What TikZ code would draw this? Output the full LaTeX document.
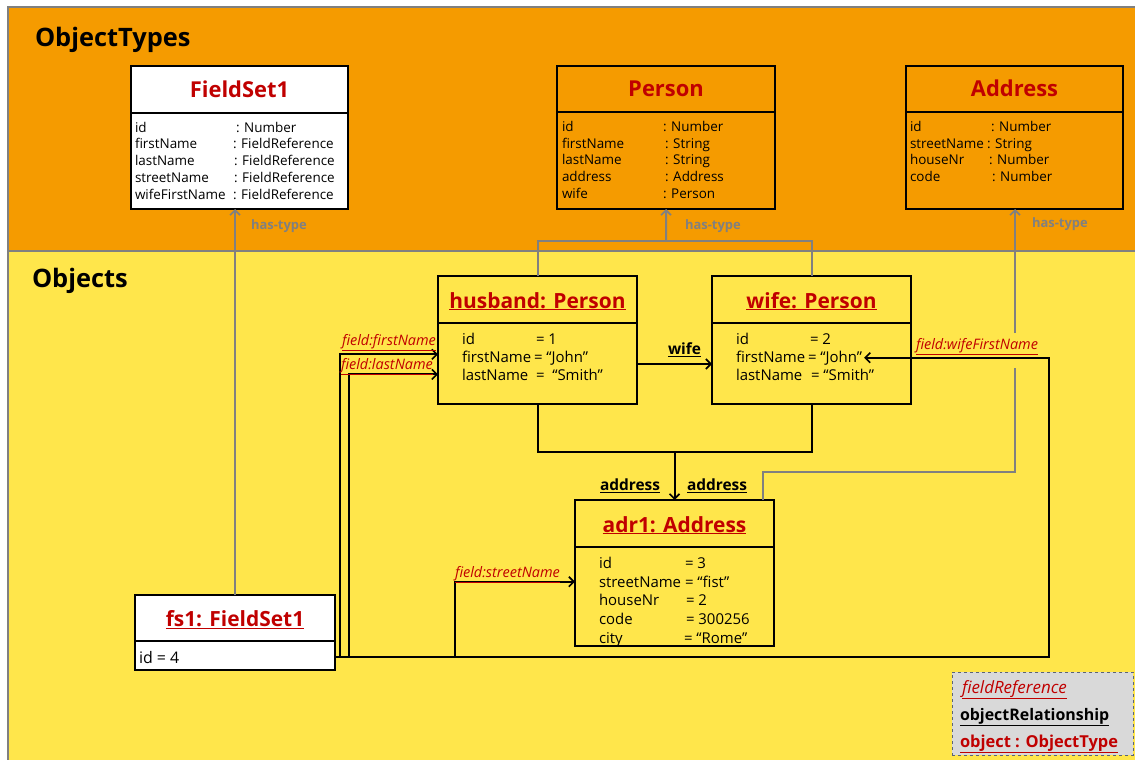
\documentclass[tikz,border=0pt]{standalone}
\usepackage{fontspec}
\setmainfont{Open Sans}
\usetikzlibrary{arrows.meta}
\definecolor{otorange}{RGB}{245,155,0}
\definecolor{objyellow}{RGB}{255,230,75}
\definecolor{titlered}{RGB}{192,0,0}
\definecolor{linkgray}{RGB}{128,128,128}
\definecolor{legendfill}{RGB}{217,217,217}
\definecolor{legendedge}{RGB}{90,100,120}

\begin{document}
\begin{tikzpicture}[x=1bp,y=-1bp,
  every node/.style={inner sep=0pt, outer sep=0pt},
  umlbox/.style={draw=black, line width=1.8bp, anchor=north west},
  typetitle/.style={text=titlered, font=\fontsize{22}{26}\selectfont\bfseries, text height=20bp, text depth=4bp},
  objtitle/.style={text=titlered, font=\fontsize{21}{25}\selectfont\bfseries, text height=20bp, text depth=3bp},
  attr/.style={anchor=base west, yshift=-5.5bp, font=\fontsize{13.5}{16}\selectfont},
  objattr/.style={anchor=base west, yshift=-6bp, font=\fontsize{15}{18}\selectfont},
  section/.style={anchor=base west, yshift=-10bp, font=\fontsize{25.5}{30}\selectfont\bfseries},
  rel/.style={draw=black, line width=2bp},
  relarrow/.style={rel, -{Straight Barb[length=5bp,width=10bp,line width=1.6bp]}},
  typelink/.style={draw=linkgray, line width=2bp},
  typearrow/.style={typelink, -{Straight Barb[length=5bp,width=10bp,line width=1.6bp]}},
  typelabel/.style={anchor=base west, yshift=-5bp, text=linkgray, font=\fontsize{13}{15}\selectfont\bfseries},
  fieldlabel/.style={anchor=base west, yshift=-5bp, text=titlered, font=\fontsize{14.5}{17}\selectfont\itshape},
  rellabel/.style={anchor=base west, yshift=-5.5bp, font=\fontsize{15.5}{18}\selectfont\bfseries},
  legendtext/.style={anchor=base west, yshift=-6bp}
]
\useasboundingbox (0,0) rectangle (1135,760);
\fill[white] (0,0) rectangle (1135,760);

% bands
\fill[otorange] (8,7) rectangle (1135,251);
\fill[objyellow] (8,251) rectangle (1135,760);
\draw[linkgray, line width=1.2bp] (1135,7) -- (8,7) -- (8,760);
\draw[linkgray, line width=1.2bp] (8,251) -- (1135,251);
\node[section] (typesec) at (35,37) {ObjectTypes};
\node[section] (objsec) at (32,277) {Objects};

% ---------- object types ----------
\node[umlbox, fill=white, minimum width=217bp, minimum height=47bp, typetitle] (fieldsetT) at (131,66) {FieldSet1};
\node[umlbox, fill=white, minimum width=217bp, minimum height=96bp] (fieldsetB) at (131,113) {};
\node[attr] at (135,127) {id};            \node[attr] at (236,127) {: Number};
\node[attr] at (135,143) {firstName};     \node[attr] at (233,143) {: FieldReference};
\node[attr] at (135,160) {lastName};      \node[attr] at (234,160) {: FieldReference};
\node[attr] at (135,177) {streetName};    \node[attr] at (234,177) {: FieldReference};
\node[attr] at (135,194) {wifeFirstName}; \node[attr] at (233,194) {: FieldReference};

\node[umlbox, fill=otorange, minimum width=218bp, minimum height=46bp, typetitle] (personT) at (557,66) {Person};
\node[umlbox, fill=otorange, minimum width=218bp, minimum height=97bp] (personB) at (557,112) {};
\node[attr] at (562,126) {id};        \node[attr] at (663,126) {: Number};
\node[attr] at (562,143) {firstName}; \node[attr] at (665,143) {: String};
\node[attr] at (562,159) {lastName};  \node[attr] at (665,159) {: String};
\node[attr] at (562,176) {address};   \node[attr] at (665,176) {: Address};
\node[attr] at (562,193) {wife};      \node[attr] at (663,193) {: Person};

\node[umlbox, fill=otorange, minimum width=217bp, minimum height=46bp, typetitle] (addressT) at (906,66) {Address};
\node[umlbox, fill=otorange, minimum width=217bp, minimum height=97bp] (addressB) at (906,112) {};
\node[attr] at (910,126) {id};         \node[attr] at (991,126) {: Number};
\node[attr] at (910,143) {streetName}; \node[attr] at (987,143) {: String};
\node[attr] at (910,159) {houseNr};    \node[attr] at (989,159) {: Number};
\node[attr] at (910,176) {code};       \node[attr] at (992,176) {: Number};

% ---------- objects ----------
\node[umlbox, fill=objyellow, minimum width=199bp, minimum height=47bp, objtitle] (husbandT) at (438,276) {\underline{husband: Person}};
\node[umlbox, fill=objyellow, minimum width=199bp, minimum height=81bp] (husbandB) at (438,323) {};
\node[objattr] at (462,338) {id};                  \node[objattr] at (536,338) {= 1};
\node[objattr] (husfirst) at (462,356) {firstName}; \node[objattr] at (534,356) {= “John”};
\node[objattr] (huslast) at (462,374) {lastName};   \node[objattr] at (536,374) {=\ \ “Smith”};

\node[umlbox, fill=objyellow, minimum width=199bp, minimum height=47bp, objtitle] (wifeT) at (712,276) {\underline{wife: Person}};
\node[umlbox, fill=objyellow, minimum width=199bp, minimum height=81bp] (wifeB) at (712,323) {};
\node[objattr] at (736,338) {id};                     \node[objattr] at (810,338) {= 2};
\node[objattr] (wifefirst) at (736,356) {firstName}; \node[objattr] (wifefirstval) at (808,356) {= “John”};
\node[objattr] at (736,374) {lastName};               \node[objattr] at (811,374) {= “Smith”};

\node[umlbox, fill=objyellow, minimum width=199bp, minimum height=47bp, objtitle] (adrT) at (575,500) {\underline{adr1: Address}};
\node[umlbox, fill=objyellow, minimum width=199bp, minimum height=99bp] (adrB) at (575,547) {};
\node[objattr] at (599,562) {id};                       \node[objattr] at (685,562) {= 3};
\node[objattr] (adrstreet) at (599,581) {streetName};  \node[objattr] at (685,581) {= “fist”};
\node[objattr] at (599,599) {houseNr};                  \node[objattr] at (686,599) {= 2};
\node[objattr] at (599,618) {code};                     \node[objattr] at (686,618) {= 300256};
\node[objattr] at (599,637) {city};                     \node[objattr] at (684,637) {= “Rome”};

\node[umlbox, fill=white, minimum width=200bp, minimum height=46bp, objtitle] (fsT) at (135,595) {\underline{fs1: FieldSet1}};
\node[umlbox, fill=white, minimum width=200bp, minimum height=29bp] (fsB) at (135,641) {};
\node[objattr, font=\fontsize{16}{19}\selectfont] at (139,657) {id = 4};

% ---------- has-type links ----------
\draw[typearrow] (fsT.north) -- (fsT.north |- fieldsetB.south);
\node[typelabel] at (251,224) {has-type};

\coordinate (personbar) at (666,241);
\draw[typelink] (husbandT.north) |- (personbar) -| (wifeT.north);
\draw[typearrow] (personbar) -- (personB.south);
\node[typelabel] at (685,224) {has-type};

\coordinate (adrlow) at (1015,368);
\coordinate (adrhigh) at (1015,333);
\draw[typelink] ([xshift=-11bp]adrT.north east) -- ++(0,-28) -| (adrlow);
\draw[typearrow] (adrhigh) -- (adrhigh |- addressB.south);
\node[typelabel] at (1032,222) {has-type};

% ---------- object relationships ----------
\coordinate (wifelink) at (0,364);
\draw[relarrow] (husbandB.east |- wifelink) -- (wifeB.west |- wifelink);
\node[rellabel] at (668,349) {\underline{wife}};

\draw[rel] (husbandB.south) -- ++(0,48) -| (wifeB.south);
\draw[relarrow] (adrT.north) ++(0,-48) -- (adrT.north);
\node[rellabel] at (600,485) {\underline{address}};
\node[rellabel] at (687,485) {\underline{address}};

% ---------- field references ----------
\coordinate (fsout) at ([yshift=-1.5bp]fsB.east);
\draw[relarrow] (fsout) -- ++(5,0) |- ([yshift=2bp]husbandB.west |- husfirst);
\draw[relarrow] (fsout) -- ++(14,0) |- (husbandB.west |- huslast);
\draw[relarrow] (fsout) -- ++(120,0) |- (adrB.west |- adrstreet);
\draw[relarrow] (fsout) -- ++(714,0) |- ([xshift=2bp]wifefirstval.east);
\node[fieldlabel] at (342,340) {\underline{field:firstName}};
\node[fieldlabel] at (341,364) {\underline{field:lastName}};
\node[fieldlabel] at (455,572) {\underline{field:streetName}};
\node[fieldlabel] at (916,344) {\underline{field:wifeFirstName}};

% ---------- legend ----------
\node[draw=legendedge, fill=legendfill, dashed, line width=1bp, anchor=north west,
      minimum width=181bp, minimum height=83bp] (legend) at (952,672) {};
\node[legendtext, text=titlered, font=\fontsize{17}{20}\selectfont\itshape] at (962,687) {\underline{fieldReference}};
\node[legendtext, font=\fontsize{16}{19}\selectfont\bfseries] at (960,714) {\underline{objectRelationship}};
\node[legendtext, text=titlered, font=\fontsize{16.5}{19}\selectfont\bfseries] at (960,741) {\underline{object : ObjectType}};
\end{tikzpicture}
\end{document}
